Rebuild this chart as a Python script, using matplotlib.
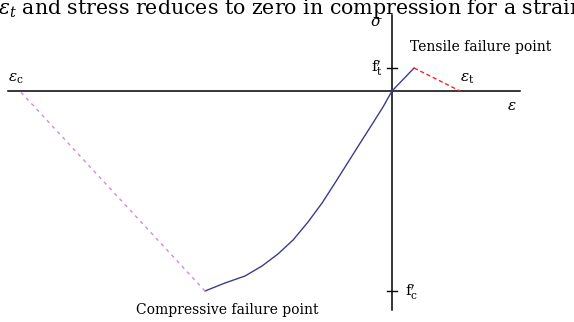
import matplotlib
matplotlib.use("Agg")
import matplotlib.pyplot as plt

# strain normalised by strain at peak compressive stress, stress by f'c
comp_strain = [0, -0.048, -0.102, -0.160, -0.241, -0.305, -0.374, -0.449, -0.529, -0.610, -0.695, -0.786, -0.893, -1.0]
comp_stress = [0, -0.080, -0.160, -0.245, -0.365, -0.460, -0.560, -0.655, -0.745, -0.815, -0.875, -0.925, -0.960, -1.0]
ten_strain = [0, 0.118]
ten_stress = [0, 0.115]
ten_soft_strain = [0.118, 0.364]
ten_soft_stress = [0.115, 0.0]
comp_soft_strain = [-1.0, -1.99]
comp_soft_stress = [-1.0, 0.0]
eps_axis = [-2.053, 0.684]
sig_axis = [0.38, -1.095]
ft = 0.115
fc = -1.0

W, H = 574, 322
X0, Y0, SX, SY = 392, 91, 187.0, 200.0

def P(x, y):
    # pixel position -> data coords (layout only)
    return (x - X0) / SX, (Y0 - y) / SY

plt.rcParams["mathtext.fontset"] = "dejavuserif"

fig = plt.figure(figsize=(W / 100, H / 100), dpi=100)
ax = fig.add_axes([0, 0, 1, 1])
ax.set_xlim(P(0, 0)[0], P(W, 0)[0])
ax.set_ylim(P(0, H)[1], P(0, 0)[1])
ax.axis("off")

# axes
ax.plot(eps_axis, [0, 0], color="black", lw=1.1)
ax.plot([0, 0], sig_axis, color="black", lw=1.1)
tk = 5 / SX
ax.plot([-tk, tk], [ft, ft], color="black", lw=1.0)
ax.plot([-tk, tk], [fc, fc], color="black", lw=1.0)

# curves
ax.plot(comp_strain, comp_stress, color="#3c3c8c", lw=1.0)
ax.plot(ten_strain, ten_stress, color="#3c3c8c", lw=1.0)
ax.plot(ten_soft_strain, ten_soft_stress, color="#ff2020", lw=1.0, ls=(0, (3, 2)))
ax.plot(comp_soft_strain, comp_soft_stress, color="#d888d8", lw=1.0, ls=(0, (2.5, 3)))

serif = "DejaVu Serif"

ax.text(*P(-2, 14), r"$\varepsilon_t$ and stress reduces to zero in compression for a strain",
        fontsize=14.8, family=serif, ha="left", va="baseline")
ax.text(*P(410, 51), "Tensile failure point", fontsize=10, family=serif, ha="left", va="baseline")
ax.text(*P(227, 314), "Compressive failure point", fontsize=10, family=serif, ha="center", va="baseline")

ax.text(*P(376, 22), r"$\sigma$", fontsize=11, ha="center", va="center")
ax.text(*P(512, 106), r"$\varepsilon$", fontsize=11, ha="center", va="center")
ax.text(*P(467, 78), r"$\varepsilon_{\rm t}$", fontsize=11, ha="center", va="center")
ax.text(*P(8, 78), r"$\varepsilon_{\rm c}$", fontsize=11, family="DejaVu Sans", ha="left", va="center")
ax.text(*P(383, 68), r"$\mathrm{f}^{\prime}_{\mathrm{t}}$", fontsize=11, ha="right", va="center")
ax.text(*P(405, 292), r"$\mathrm{f}^{\prime}_{\mathrm{c}}$", fontsize=11, ha="left", va="center")

fig.savefig("out.png", dpi=100)
